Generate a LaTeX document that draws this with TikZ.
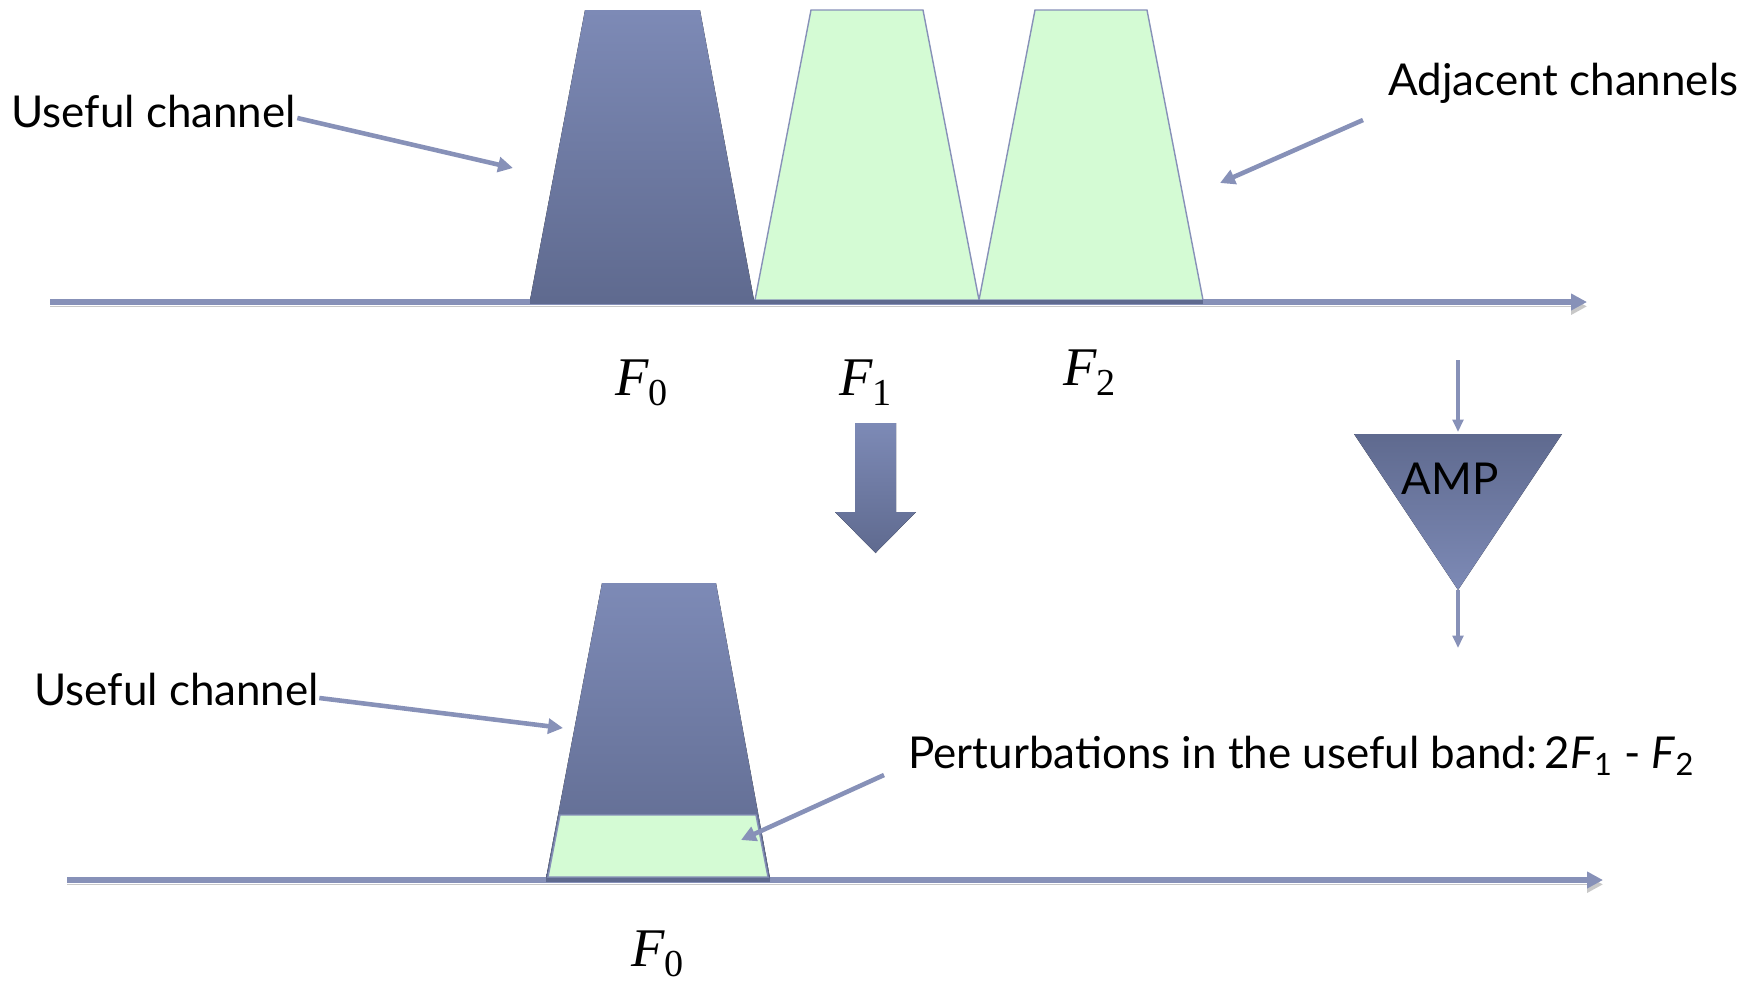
\documentclass[tikz,border=0pt]{standalone}
\usepackage{fontspec}
\setmainfont{Lato}
\newfontfamily\tmsfont{Liberation Serif}
\usetikzlibrary{arrows.meta,positioning,calc}
\definecolor{chanlight}{HTML}{7D8AB6}
\definecolor{chandark}{HTML}{5F6A8F}
\definecolor{adjgreen}{HTML}{D4FBD4}
\definecolor{linecol}{HTML}{8791B8}
\definecolor{shadowc}{HTML}{C8C8C8}
\newcommand{\freq}[1]{{\tmsfont\fontsize{31}{36}\selectfont\textit{F}\textsubscript{#1}}}

\begin{document}
\begin{tikzpicture}[x=0.02cm,y=-0.02cm,
  txt/.style={font=\fontsize{25}{30}\selectfont,inner sep=0pt,anchor=base west},
  lbl/.style={inner sep=0pt,anchor=base},
  axis/.style={draw=linecol,line width=3.2pt,-{Triangle[length=9pt,width=9pt]},
               preaction={draw=shadowc,transform canvas={yshift=-2.5pt}}},
  pointer/.style={draw=linecol,line width=2.6pt,-{Triangle[length=8.5pt,width=8.5pt]}},
  feed/.style={draw=linecol,line width=1.8pt,-{Triangle[length=7pt,width=6pt]}},
  useful/.style={top color=chanlight,bottom color=chandark},
  amp/.style={top color=chandark,bottom color=chanlight},
  adj/.style={fill=adjgreen,draw=linecol,line width=0.8pt},
]
\useasboundingbox (0,0) rectangle (1755,988);

% upper spectrum
\draw[axis] (50,302) coordinate (ax-a) -- (1587,302) coordinate (ax-b);
\fill[useful] (530,300) -- (585,10) -- (700,10) -- (754,300) -- cycle;
\foreach \c in {867,1091} {
  \filldraw[adj] (\c-112,300) -- (\c-56,10) -- (\c+56,10) -- (\c+112,300) -- cycle;
}
\draw[chandark,line width=2.6pt] (530,302) -- (1203,302);
\node[lbl] (f0) at (642,395) {\freq{0}};
\node[lbl] (f1) at (866,395) {\freq{1}};
\node[lbl] (f2) at (1090,385) {\freq{2}};

\node[txt] (useful) at (11,127) {Useful channel};
\coordinate (useful-tip) at (513,168);
\draw[pointer] ($(useful.base east)+(1,-9)$) -- (useful-tip);
\node[txt] (adjacent) at (1388,95) {Adjacent channels};
\coordinate (adj-start) at (1363,120);
\coordinate (adj-tip) at (1220,183);
\draw[pointer] (adj-start) -- (adj-tip);

% block arrow
\fill[useful] (855,423) -- (896,423) -- (896,512) -- (916,512) -- (875.5,553)
  -- (835,512) -- (855,512) -- cycle;

% amplifier
\coordinate (amp-in) at (1458,360);
\coordinate (amp-top) at (1458,432);
\coordinate (amp-tip) at (1458,590);
\coordinate (amp-out) at (1458,648);
\fill[amp] (1354,434) -- (1562,434) -- (amp-tip) -- cycle;
\node[txt,anchor=base] (ampl) at (1450,494) {AMP};
\draw[feed] (amp-in) -- (amp-top);
\draw[feed] (amp-tip) -- (amp-out);

% lower spectrum
\draw[axis] (67,880) coordinate (bx-a) -- (1603,880) coordinate (bx-b);
\fill[useful] (546,878) -- (602,583) -- (716,583) -- (770,878) -- cycle;
\filldraw[adj] (548,877) -- (560,815) -- (756,815) -- (768,877) -- cycle;
\draw[chandark,line width=2.6pt] (546,880) -- (770,880);
\node[lbl] (f0b) at (658,966) {\freq{0}};

\node[txt] (useful2) at (34,705) {Useful channel};
\coordinate (useful2-tip) at (563,728);
\draw[pointer] ($(useful2.base east)+(0,-7)$) -- (useful2-tip);
\node[txt] (pert) at (908,768)
  {Perturbations in the useful band:\,2\textit{F}\textsubscript{1} - \textit{F}\textsubscript{2}};
\coordinate (pert-start) at (884,775);
\coordinate (pert-tip) at (741,840);
\draw[pointer] (pert-start) -- (pert-tip);
\end{tikzpicture}
\end{document}
